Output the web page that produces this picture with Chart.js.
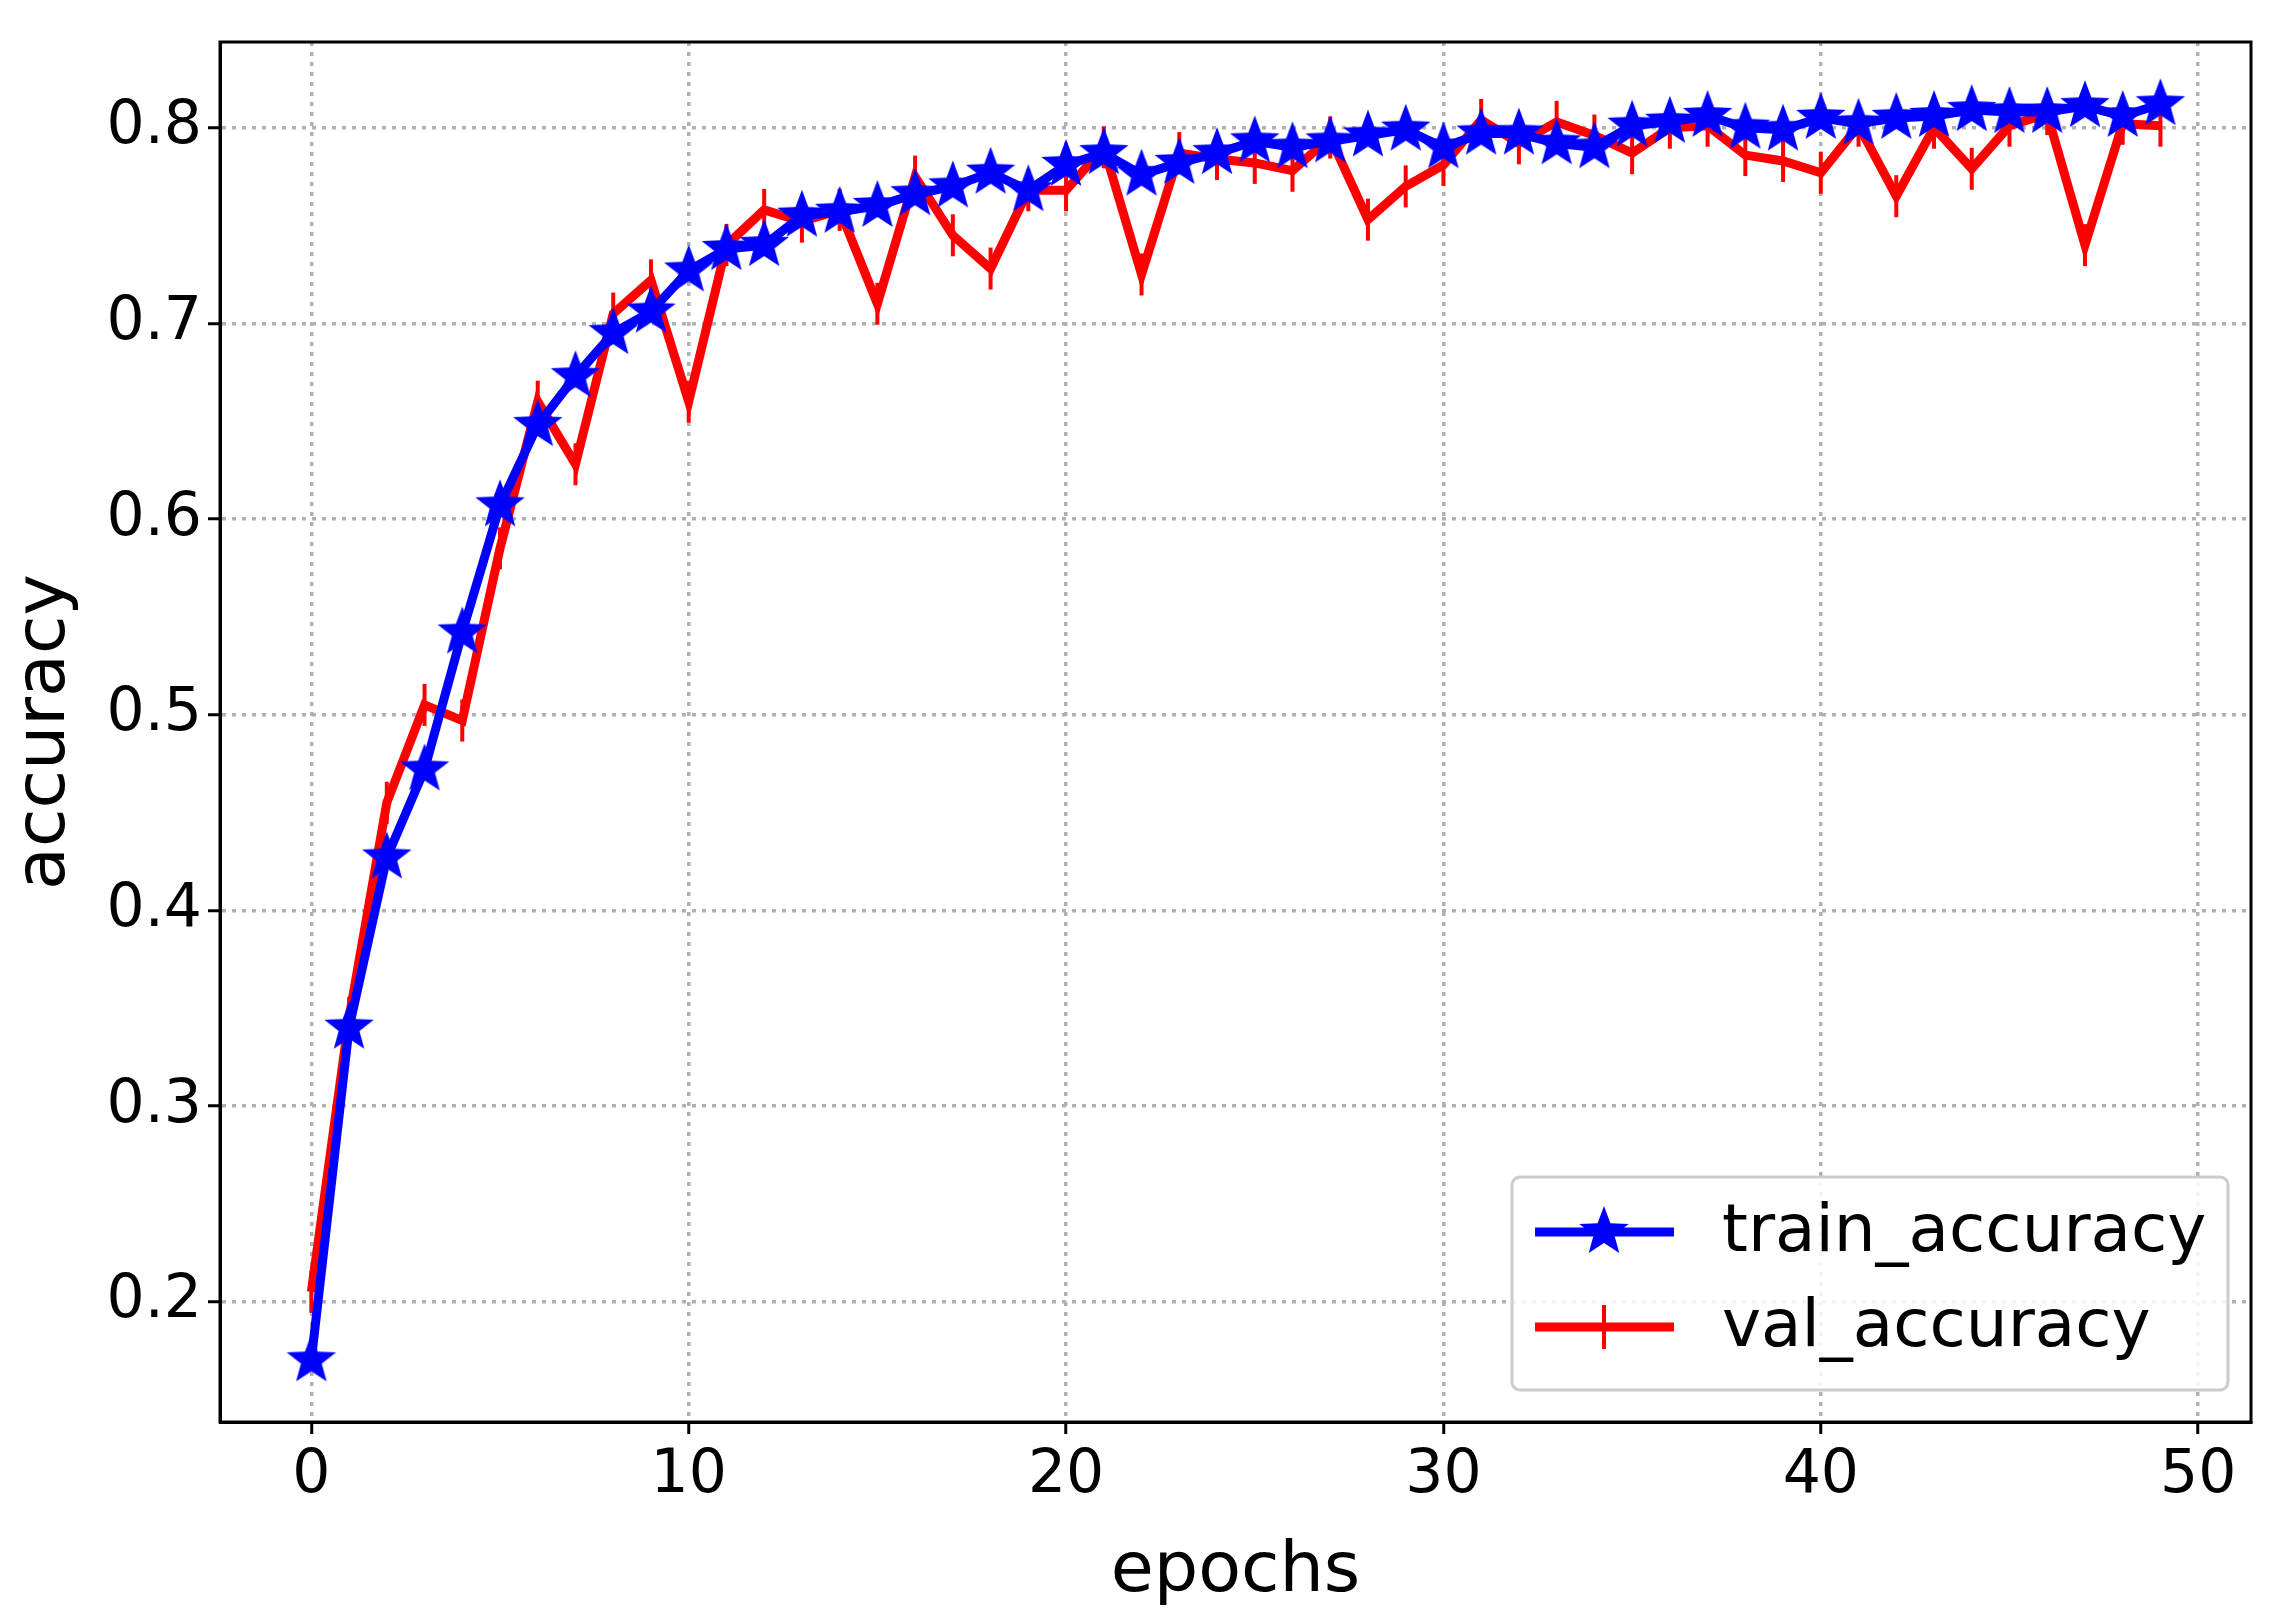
<!DOCTYPE html>
<html><head><meta charset="utf-8">
<script src="https://cdn.jsdelivr.net/npm/chart.js@4"></script>
<style>body{margin:0;background:#fff}</style>
</head><body>
<canvas id="c" width="2286" height="1623"></canvas>
<script>
const epochs = Array.from({length:50},(_,i)=>i);
const trainAccuracy = [0.17,0.34,0.427,0.472,0.542,0.607,0.648,0.673,0.695,0.706,0.727,0.738,0.74,0.755,0.757,0.76,0.766,0.77,0.777,0.768,0.781,0.787,0.776,0.782,0.787,0.793,0.79,0.793,0.796,0.799,0.79,0.797,0.797,0.792,0.79,0.801,0.803,0.806,0.8,0.799,0.805,0.802,0.805,0.806,0.809,0.808,0.808,0.811,0.806,0.812];
const valAccuracy = [0.205,0.345,0.455,0.505,0.497,0.585,0.66,0.628,0.705,0.722,0.66,0.74,0.758,0.752,0.758,0.71,0.775,0.745,0.728,0.768,0.768,0.79,0.725,0.787,0.784,0.782,0.778,0.795,0.753,0.77,0.781,0.804,0.792,0.803,0.796,0.787,0.8,0.801,0.786,0.783,0.777,0.801,0.765,0.8,0.779,0.801,0.807,0.74,0.802,0.801];
const xTicks = [0,10,20,30,40,50];
const yTicks = [0.2,0.3,0.4,0.5,0.6,0.7,0.8];

function starImg(r,color){
  const c=document.createElement('canvas');c.width=c.height=2*r+4;
  const g=c.getContext('2d');g.fillStyle=color;g.beginPath();
  for(let i=0;i<10;i++){const a=-Math.PI/2+i*Math.PI/5;const rr=i%2?r*0.42:r;
    g.lineTo(r+2+rr*Math.cos(a),r+2+rr*Math.sin(a));}
  g.closePath();g.fill();return c;
}
const star=starImg(26,'#0000ff');

const legendPlugin={id:'lg',afterDraw(ch){
  const g=ch.ctx;g.save();
  const x=1512,y=1177,w=716,h=213;
  g.fillStyle='rgba(255,255,255,0.85)';g.strokeStyle='#cccccc';g.lineWidth=3;
  g.beginPath();g.roundRect(x,y,w,h,8);g.fill();g.stroke();
  g.font='66px "DejaVu Sans"';g.textBaseline='middle';g.fillStyle='#000';
  const rows=[[1232,'#0000ff','train_accuracy'],[1327,'#ff0000','val_accuracy']];
  rows.forEach(([yy,col,t],i)=>{
    g.strokeStyle=col;g.lineWidth=9;g.beginPath();g.moveTo(1535,yy);g.lineTo(1674,yy);g.stroke();
    if(i==0) g.drawImage(star,1604-28,yy-28);
    else {g.lineWidth=4;g.beginPath();g.moveTo(1604,yy-22);g.lineTo(1604,yy+22);g.stroke();}
    g.fillText(t,1722,yy+2);
  });
  g.restore();
}};

new Chart(document.getElementById('c'),{
  type:'line',
  data:{datasets:[
    {label:'train_accuracy',data:epochs.map((e,i)=>({x:e,y:trainAccuracy[i]})),borderColor:'#0000ff',borderWidth:9,pointStyle:star,pointRadius:26,tension:0},
    {label:'val_accuracy',data:epochs.map((e,i)=>({x:e,y:valAccuracy[i]})),borderColor:'#ff0000',backgroundColor:'#ff0000',borderWidth:9,pointStyle:'line',rotation:90,pointRadius:21,pointBorderWidth:4,tension:0}
  ]},
  options:{responsive:false,animation:false,devicePixelRatio:1,
    layout:{padding:{top:4,right:24,left:0,bottom:0}},
    plugins:{legend:{display:false},tooltip:{enabled:false}},
    scales:{
      x:{type:'linear',min:-2.42,max:51.4,
        afterBuildTicks(s){s.ticks=xTicks.map(v=>({value:v}));},
        afterFit(s){s.height=201;},
        ticks:{font:{family:'DejaVu Sans',size:60},color:'#000',padding:6,maxRotation:0},
        grid:{color:'#b0b0b0',lineWidth:3.5,tickColor:'#000',tickLength:12,tickWidth:3},
        border:{color:'#000',width:3,dash:[4,6]},
        title:{display:true,text:'epochs',font:{family:'DejaVu Sans',size:70},color:'#000',padding:{top:0,bottom:8}}},
      y:{min:0.1385,max:0.8438,
        afterBuildTicks(s){s.ticks=yTicks.map(v=>({value:v}));},
        afterFit(s){s.width=220;},
        ticks:{font:{family:'DejaVu Sans',size:60},color:'#000',padding:6,callback:v=>v.toFixed(1)},
        grid:{color:'#b0b0b0',lineWidth:3.5,tickColor:'#000',tickLength:12,tickWidth:3},
        border:{color:'#000',width:3,dash:[4,6]},
        title:{display:true,text:'accuracy',font:{family:'DejaVu Sans',size:70},color:'#000',padding:{bottom:0}}}
    }
  },
  plugins:[legendPlugin,{id:'frame',afterDatasetsDraw(ch){const a=ch.chartArea,g=ch.ctx;g.save();g.strokeStyle='#000';g.lineWidth=3;g.setLineDash([]);g.strokeRect(a.left,a.top,a.right-a.left,a.bottom-a.top);g.restore();}}]
});
</script>
</body></html>
